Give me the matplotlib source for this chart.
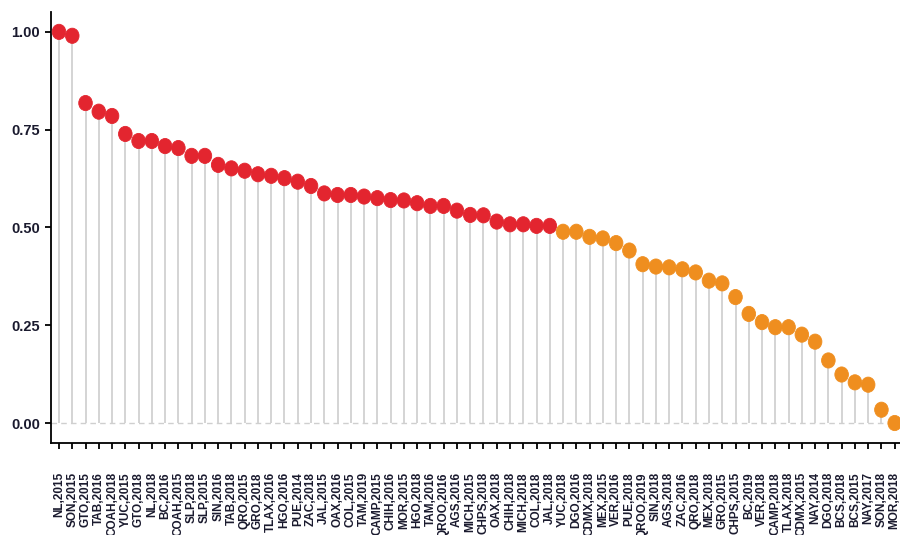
import numpy as np
import matplotlib
matplotlib.use("Agg")
import matplotlib.pyplot as plt
from matplotlib.path import Path
from matplotlib.transforms import Affine2D

plt.rcParams['font.family'] = ['Liberation Sans', 'DejaVu Sans']

etiquetas = ["NL,2015", "SON,2015", "GTO,2015", "TAB,2016", "COAH,2018", "YUC,2015",
             "GTO,2018", "NL,2018", "BC,2016", "COAH,2015", "SLP,2018", "SLP,2015",
             "SIN,2016", "TAB,2018", "QRO,2015", "GRO,2018", "TLAX,2016", "HGO,2016",
             "PUE,2014", "ZAC,2018", "JAL,2015", "OAX,2016", "COL,2015", "TAM,2019",
             "CAMP,2015", "CHIH,2016", "MOR,2015", "HGO,2018", "TAM,2016", "QROO,2016",
             "AGS,2016", "MICH,2015", "CHPS,2018", "OAX,2018", "CHIH,2018", "MICH,2018",
             "COL,2018", "JAL,2018", "YUC,2018", "DGO,2016", "CDMX,2018", "MEX,2015",
             "VER,2016", "PUE,2018", "QROO,2019", "SIN,2018", "AGS,2018", "ZAC,2016",
             "QRO,2018", "MEX,2018", "GRO,2015", "CHPS,2015", "BC,2019", "VER,2018",
             "CAMP,2018", "TLAX,2018", "CDMX,2015", "NAY,2014", "DGO,2018", "BCS,2018",
             "BCS,2015", "NAY,2017", "SON,2018", "MOR,2018"]

valores = [1.000, 0.990, 0.818, 0.796, 0.785, 0.739, 0.721, 0.721, 0.708, 0.703,
           0.683, 0.683, 0.660, 0.651, 0.645, 0.636, 0.632, 0.626, 0.617, 0.606,
           0.587, 0.583, 0.583, 0.579, 0.575, 0.570, 0.569, 0.562, 0.555, 0.555,
           0.543, 0.532, 0.531, 0.515, 0.508, 0.508, 0.504, 0.504, 0.489, 0.489,
           0.476, 0.472, 0.460, 0.441, 0.406, 0.400, 0.398, 0.393, 0.385, 0.364,
           0.357, 0.322, 0.279, 0.258, 0.245, 0.245, 0.226, 0.208, 0.160, 0.124,
           0.104, 0.098, 0.034, 0.000]

# grupo: 1 = rojo, 2 = naranja
grupo = [1] * 38 + [2] * 26

rojo = "#e3252f"
naranja = "#ef8e1f"
colores = [rojo if g == 1 else naranja for g in grupo]

x = np.arange(len(valores))

# marcador un poco ovalado
circ = Path.unit_circle()
ovalo = Affine2D().scale(1.0, 1.12).transform_path(circ)

fig = plt.figure(figsize=(9, 5.35), dpi=100)
ax = fig.add_axes([0.0567, 0.172, 0.9433, 0.805])

ax.axhline(0, color="#cfcfcf", lw=1, ls=(0, (4, 3)), zorder=1)
ax.vlines(x, 0, valores, color="#d4d4d4", lw=1.4, zorder=2)
ax.scatter(x, valores, c=colores, marker=ovalo, s=120, linewidths=0.6,
           edgecolors=colores, zorder=3)

ax.set_xlim(-0.6, 63.4)
ax.set_ylim(-0.051, 1.05)
ax.set_yticks([0, 0.25, 0.5, 0.75, 1.0])
ax.set_yticklabels(["0.00", "0.25", "0.50", "0.75", "1.00"])
ax.set_xticks(x)
ax.set_xticklabels(etiquetas, rotation=90, ha="center", va="top")

for lbl in ax.get_yticklabels():
    lbl.set_fontsize(10.5)
    lbl.set_fontweight("bold")
    lbl.set_color("#1a1a2e")
for lbl in ax.get_xticklabels():
    lbl.set_fontsize(8.5)
    lbl.set_fontweight("bold")
    lbl.set_color("#1a1a2e")

ax.tick_params(axis="x", length=4, width=1.3, pad=17)
ax.tick_params(axis="y", length=4, width=1.3, pad=4)

for s in ["top", "right"]:
    ax.spines[s].set_visible(False)
for s in ["left", "bottom"]:
    ax.spines[s].set_linewidth(1.3)

fig.savefig("out.png", dpi=100)
